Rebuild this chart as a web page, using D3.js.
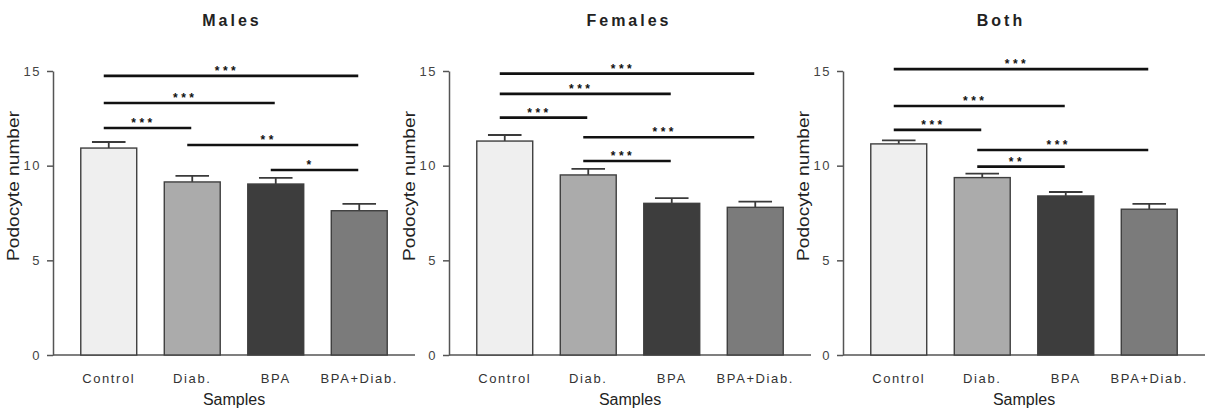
<!DOCTYPE html>
<meta charset="utf-8">
<script src="https://d3js.org/d3.v7.min.js"></script>
<style>
  body { margin: 0; background: #fff; }
  text { font-family: "Liberation Sans", Arial, sans-serif; }
</style>
<div id="chart"></div>
<script>

// data
var categories = ["Control", "Diab.", "BPA", "BPA+Diab."];
var panelTitles = ["Males", "Females", "Both"];
var yTicks = [0, 5, 10, 15];

var meanMales   = [10.93, 9.14, 9.03, 7.62];
var semMales    = [0.32, 0.32, 0.32, 0.36];
var meanFemales = [11.30, 9.51, 8.01, 7.80];
var semFemales  = [0.32, 0.32, 0.28, 0.30];
var meanBoth    = [11.15, 9.37, 8.40, 7.70];
var semBoth     = [0.19, 0.21, 0.21, 0.28];

// significance brackets: [from, to, level, label]
var sigMales   = [[0, 3, 14.74, "***"], [0, 2, 13.31, "***"], [0, 1, 11.99, "***"], [1, 3, 11.09, "**"], [2, 3, 9.77, "*"]];
var sigFemales = [[0, 3, 14.86, "***"], [0, 2, 13.79, "***"], [0, 1, 12.54, "***"], [1, 3, 11.50, "***"], [1, 2, 10.25, "***"]];
var sigBoth    = [[0, 3, 15.10, "***"], [0, 2, 13.15, "***"], [0, 1, 11.89, "***"], [1, 3, 10.83, "***"], [1, 2, 9.95, "**"]];

var fills = ["#efefef", "#ababab", "#3d3d3d", "#7b7b7b"];

var panels = [
  {title: panelTitles[0], mean: meanMales,   sem: semMales,   sig: sigMales,   left: 53,  titleX: 179},
  {title: panelTitles[1], mean: meanFemales, sem: semFemales, sig: sigFemales, left: 449, titleX: 180},
  {title: panelTitles[2], mean: meanBoth,    sem: semBoth,    sig: sigBoth,    left: 843, titleX: 158}
];

var width = 1208, height = 416;

var svg = d3.select("#chart")
  .append("svg")
    .attr("width", width)
    .attr("height", height);

var y = d3.scaleLinear().domain([0, 15]).range([355, 71]);
var x = d3.scaleBand()
  .domain(categories)
  .range([14, 348])
  .paddingInner(0.33)
  .paddingOuter(0.165);
var bw = x.bandwidth();

panels.forEach(function(p) {
  var g = svg.append("g").attr("transform", "translate(" + p.left + ",0)");

  // title
  g.append("text")
    .attr("x", p.titleX)
    .attr("y", 26)
    .attr("text-anchor", "middle")
    .style("font-weight", "bold")
    .style("font-size", "16px")
    .style("letter-spacing", "3px")
    .attr("fill", "#222")
    .text(p.title);

  // Y axis
  var ya = g.append("g")
    .call(d3.axisLeft(y).tickValues(yTicks).tickSize(6).tickSizeOuter(0).tickPadding(6));
  ya.select(".domain").attr("stroke", "#555").attr("stroke-width", 1.5);
  ya.selectAll(".tick line").attr("stroke", "#555").attr("stroke-width", 1.5);
  ya.selectAll(".tick text")
    .attr("fill", "#444")
    .style("font-size", "13px")
    .style("letter-spacing", "1.5px")
    .style("font-family", "'Liberation Sans', Arial, sans-serif");

  // X axis
  var xa = g.append("g")
    .attr("transform", "translate(0," + y(0) + ")")
    .call(d3.axisBottom(x).tickSize(0).tickPadding(19));
  xa.select(".domain").remove();
  xa.selectAll(".tick text")
    .attr("fill", "#333")
    .style("font-size", "13px")
    .style("letter-spacing", "1.6px")
    .style("font-family", "'Liberation Sans', Arial, sans-serif");
  g.append("line")
    .attr("x1", 0).attr("x2", 362)
    .attr("y1", y(0)).attr("y2", y(0))
    .attr("stroke", "#555").attr("stroke-width", 1.5);

  // axis titles
  g.append("text")
    .attr("x", (x.range()[0] + x.range()[1]) / 2)
    .attr("y", 405)
    .attr("text-anchor", "middle")
    .style("font-size", "16px")
    .attr("fill", "#222")
    .text("Samples");

  g.append("text")
    .attr("transform", "translate(-34,186) rotate(-90)")
    .attr("text-anchor", "middle")
    .attr("textLength", 150)
    .attr("lengthAdjust", "spacingAndGlyphs")
    .style("font-size", "16px")
    .attr("fill", "#222")
    .text("Podocyte number");

  var rows = categories.map(function(c, i) {
    return {cat: c, mean: p.mean[i], sem: p.sem[i], fill: fills[i]};
  });

  // error bars (upper only)
  g.selectAll(".err")
    .data(rows)
    .enter().append("line")
      .attr("x1", function(d) { return x(d.cat) + bw / 2; })
      .attr("x2", function(d) { return x(d.cat) + bw / 2; })
      .attr("y1", function(d) { return y(d.mean); })
      .attr("y2", function(d) { return y(d.mean + d.sem); })
      .attr("stroke", "#3a3a3a").attr("stroke-width", 1.8);
  g.selectAll(".cap")
    .data(rows)
    .enter().append("line")
      .attr("x1", function(d) { return x(d.cat) + bw / 2 - bw * 0.3; })
      .attr("x2", function(d) { return x(d.cat) + bw / 2 + bw * 0.3; })
      .attr("y1", function(d) { return y(d.mean + d.sem); })
      .attr("y2", function(d) { return y(d.mean + d.sem); })
      .attr("stroke", "#3a3a3a").attr("stroke-width", 1.8);

  // bars
  g.selectAll(".bar")
    .data(rows)
    .enter().append("rect")
      .attr("x", function(d) { return x(d.cat); })
      .attr("y", function(d) { return y(d.mean); })
      .attr("width", bw)
      .attr("height", function(d) { return y(0) - y(d.mean); })
      .attr("fill", function(d) { return d.fill; })
      .attr("stroke", "#3f3f3f")
      .attr("stroke-width", 1.4);

  // significance brackets
  p.sig.forEach(function(s) {
    var x1 = x(categories[s[0]]) + bw / 2 - 5;
    var x2 = x(categories[s[1]]) + bw / 2 - 1;
    g.append("line")
      .attr("x1", x1).attr("x2", x2)
      .attr("y1", y(s[2])).attr("y2", y(s[2]))
      .attr("stroke", "#111").attr("stroke-width", 2.6);
    g.append("text")
      .attr("x", (x1 + x2) / 2 - 4)
      .attr("y", y(s[2]) - 1)
      .attr("text-anchor", "middle")
      .style("font-size", "12px")
      .style("font-weight", "bold")
      .style("letter-spacing", "3.5px")
      .attr("fill", "#111")
      .text(s[3]);
  });
});

</script>
